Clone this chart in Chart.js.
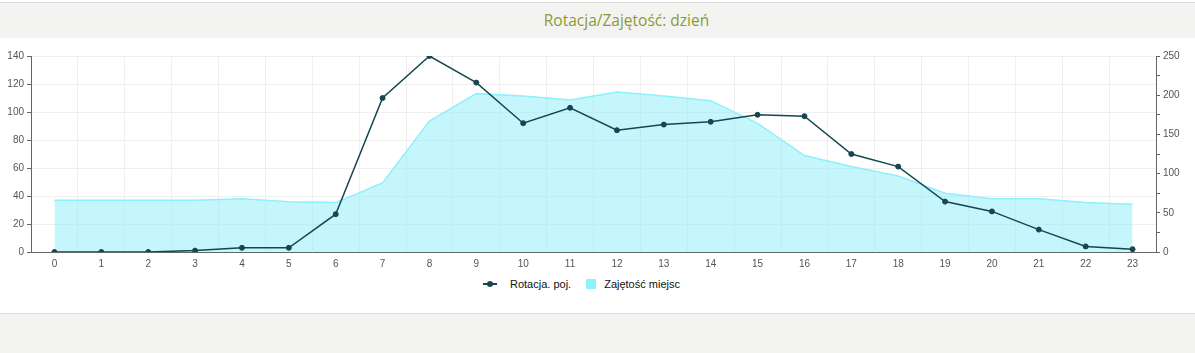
<!DOCTYPE html>
<html>
<head>
<meta charset="utf-8">
<script src="https://cdn.jsdelivr.net/npm/chart.js@4"></script>
<style>
  body { margin: 0; background: #fff; width: 1195px; height: 353px; overflow: hidden; font-family: "Liberation Sans", Arial, sans-serif; }
  .header { position: absolute; top: 2px; left: 0; width: 1195px; height: 36px; background: #f3f3f1; border-top: 1px solid #dcdcdc; box-sizing: border-box; }
  .header h1 { margin: 0; font: 15.5px "Open Sans", sans-serif; color: #8b9b33; text-align: center; line-height: 35px; padding-left: 58px; }
  .chartbox { position: absolute; top: 38px; left: 0; width: 1195px; height: 238px; }
  .legend { position: absolute; top: 277px; left: 483px; white-space: nowrap; font-size: 11px; color: #111; }
  .legend span { display: inline-block; vertical-align: middle; }
  .footer { position: absolute; top: 313px; left: 0; width: 1195px; height: 39px; background: #f3f3f1; border-top: 1px solid #dcdcdc; border-bottom: 1px solid #dcdcdc; }
</style>
</head>
<body>
<div class="header"><h1>Rotacja/Zajętość: dzień</h1></div>
<div class="chartbox"><canvas id="dayChart" width="1195" height="238"></canvas></div>
<div class="legend">
  <span style="position:relative;width:14px;height:10px;margin-right:13px;">
    <span style="position:absolute;left:0;top:4px;width:14px;height:2px;background:#174652;"></span>
    <span style="position:absolute;left:4px;top:2px;width:6px;height:6px;border-radius:50%;background:#174652;"></span>
  </span><span style="margin-right:15px;">Rotacja. poj.</span><span style="width:10px;height:10px;background:#8ef2fb;margin-right:8px;"></span><span>Zajętość miejsc</span>
</div>
<div class="footer"></div>
<script>
const hours = ["0","1","2","3","4","5","6","7","8","9","10","11","12","13","14","15","16","17","18","19","20","21","22","23"];
const rotacja = [0, 0, 0, 1, 3, 3, 27, 110, 140, 121, 92, 103, 87, 91, 93, 98, 97, 70, 61, 36, 29, 16, 4, 2];
const zajetosc = [66, 66, 66, 66, 68, 64, 63, 88, 167, 202, 199, 194, 204, 199, 193, 164, 123, 109, 97, 75, 68, 68, 63, 61];

var ctx = document.getElementById("dayChart").getContext("2d");
var dayChart = new Chart(ctx, {
  type: "line",
  data: {
    labels: hours,
    datasets: [
      {
        label: "Rotacja. poj.",
        data: rotacja,
        yAxisID: "y",
        borderColor: "#174652",
        backgroundColor: "#174652",
        borderWidth: 1.5,
        pointRadius: 2.5,
        pointBorderWidth: 1,
        pointBackgroundColor: "#174652",
        tension: 0,
        fill: false,
      },
      {
        label: "Zajętość miejsc",
        data: zajetosc,
        yAxisID: "y1",
        borderColor: "#8ef0fb",
        backgroundColor: "rgba(140,238,250,0.5)",
        borderWidth: 1.5,
        pointRadius: 0,
        tension: 0,
        fill: "origin",
      },
    ],
  },
  options: {
    responsive: false,
    animation: false,
    devicePixelRatio: 1,
    layout: { padding: { top: 18, left: 0, right: 0, bottom: 0 } },
    plugins: {
      legend: { display: false },
      title: { display: false },
      tooltip: { enabled: false },
    },
    scales: {
      x: {
        offset: true,
        afterFit: (s) => { s.height = 24; },
        grid: { offset: true, color: "#efefef", tickLength: 0, tickColor: "rgba(0,0,0,0)" },
        border: { color: "#666", width: 1 },
        ticks: { color: "#555", font: { size: 10, family: "Liberation Sans" }, padding: 6, maxRotation: 0, autoSkip: false },
      },
      y: {
        position: "left",
        min: 0,
        max: 140,
        afterFit: (s) => { s.width = 31; },
        grid: {
          color: (c) => (c.tick && c.tick.value % 20 === 0 ? "#efefef" : "rgba(0,0,0,0)"),
          tickColor: "#666",
          tickLength: 4,
        },
        border: { color: "#666", width: 1 },
        ticks: {
          stepSize: 10,
          color: "#555",
          font: { size: 10, family: "Liberation Sans" },
          padding: 3,
          callback: (v) => (v % 20 === 0 ? v : ""),
        },
      },
      y1: {
        position: "right",
        min: 0,
        max: 250,
        afterFit: (s) => { s.width = 39; },
        grid: { drawOnChartArea: false, tickColor: "#666", tickLength: 4 },
        border: { color: "#666", width: 1 },
        ticks: {
          stepSize: 25,
          color: "#555",
          font: { size: 10, family: "Liberation Sans" },
          padding: 3,
          callback: (v) => (v % 50 === 0 ? v : ""),
        },
      },
    },
  },
});
</script>
</body>
</html>
